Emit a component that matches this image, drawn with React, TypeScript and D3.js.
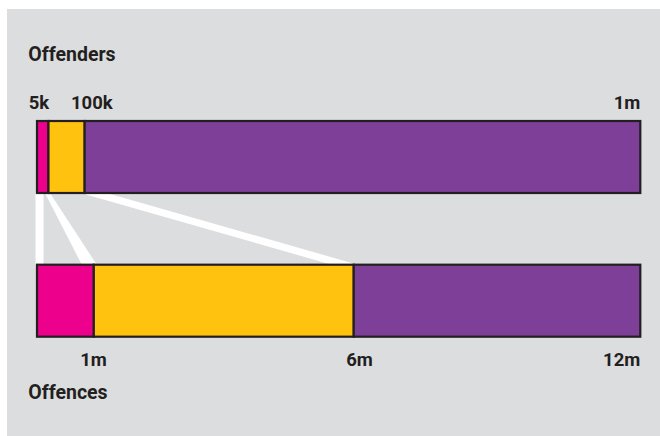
import React from "react";
import * as d3 from "d3";

const segmentNames = ["magenta", "yellow", "purple"];
const offenderValues = [19000, 60000, 921000];
const offenceValues = [1130000, 5170000, 5700000];
const segmentColors = ["#EC008C", "#FFC20E", "#7D3F98"];
const offenderTickLabels = ["5k", "100k", "1m"];
const offenderTickValues = [20300, 125500, 1000000];
const offenceTickLabels = ["1m", "6m", "12m"];
const offenceTickValues = [1390000, 6680000, 12000000];
const titles = ["Offenders", "Offences"];

const W = 660;
const H = 436;

export default function App() {
  const x0 = 37;
  const x1 = 640.3;
  const topTotal = d3.sum(offenderValues);
  const botTotal = d3.sum(offenceValues);
  const xTop = d3.scaleLinear().domain([0, topTotal]).range([x0, x1]);
  const xBot = d3.scaleLinear().domain([0, botTotal]).range([x0, x1]);

  const topY = 121;
  const botY = 264.7;
  const barH = 72;

  const cum = (vals: number[]) => {
    let s = 0;
    return vals.map((v) => {
      const start = s;
      s += v;
      return [start, s];
    });
  };
  const topSegs = cum(offenderValues);
  const botSegs = cum(offenceValues);

  const ink = "#231F20";
  const font = "Roboto, 'Open Sans', sans-serif";

  // connectors between boundaries (start and two inner boundaries)
  const topBounds = [0, topSegs[0][1], topSegs[1][1]].map((v) => xTop(v));
  const botBounds = [0, botSegs[0][1], botSegs[1][1]].map((v) => xBot(v));
  const yT = topY + barH;
  const yB = botY;
  const offsets = [
    { tl: -1.5, tr: 6.5, bl: -1.5, br: 6.5 },
    { tl: -3.5, tr: 1.5, bl: -12, br: 3 },
    { tl: -4, tr: 22, bl: -22, br: 4 },
  ];
  const connectors = topBounds.map((tx, i) => {
    const bx = botBounds[i];
    const o = offsets[i];
    return [
      [tx + o.tl, yT],
      [tx + o.tr, yT],
      [bx + o.br, yB],
      [bx + o.bl, yB],
    ];
  });
  const line = d3.line();

  return (
    <svg
      width={W}
      height={H}
      style={{ position: "absolute", left: 0, top: 0, display: "block" }}
    >
      <rect x={0} y={0} width={W} height={H} fill="#ffffff" />
      <rect x={7} y={9} width={W - 7} height={H - 9} fill="#DCDDDF" />

      {connectors.map((pts, i) => (
        <path key={"c" + i} d={line(pts as [number, number][]) + "Z"} fill="#ffffff" />
      ))}

      {/* top bar */}
      {topSegs.map(([a, b], i) => (
        <rect
          key={"t" + segmentNames[i]}
          x={xTop(a)}
          y={topY}
          width={xTop(b) - xTop(a)}
          height={barH}
          fill={segmentColors[i]}
          stroke={ink}
          strokeWidth={2.2}
        />
      ))}
      {/* bottom bar */}
      {botSegs.map(([a, b], i) => (
        <rect
          key={"b" + segmentNames[i]}
          x={xBot(a)}
          y={botY}
          width={xBot(b) - xBot(a)}
          height={barH}
          fill={segmentColors[i]}
          stroke={ink}
          strokeWidth={2.2}
        />
      ))}

      <g fontFamily={font} fontWeight={700} fill={ink}>
        <text x={28.3} y={60.7} fontSize={19.5}>
          {titles[0]}
        </text>
        <text x={28.3} y={399} fontSize={19.5}>
          {titles[1]}
        </text>
        {offenderTickLabels.map((t, i) => (
          <text key={"tt" + t} x={xTop(offenderTickValues[i])} y={109.3} fontSize={18.5} textAnchor="end">
            {t}
          </text>
        ))}
        {offenceTickLabels.map((t, i) => (
          <text key={"bt" + t} x={xBot(offenceTickValues[i])} y={366} fontSize={18.5} textAnchor="end">
            {t}
          </text>
        ))}
      </g>
    </svg>
  );
}
